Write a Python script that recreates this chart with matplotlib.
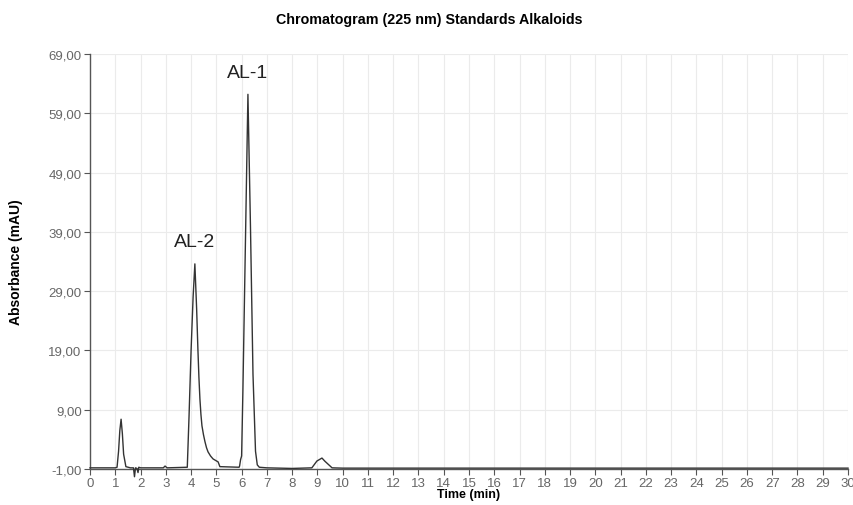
import matplotlib.pyplot as plt
from matplotlib.ticker import FuncFormatter

# chromatogram trace
time_min = [0.0, 1.0, 1.07, 1.13, 1.18, 1.23, 1.28, 1.33, 1.42, 1.6, 1.72, 1.76, 1.8,
            1.86, 1.9, 1.93, 2.0, 2.9, 2.97, 3.05, 3.85, 3.92, 4.0, 4.08, 4.15, 4.22,
            4.27, 4.31, 4.35, 4.39, 4.43, 4.49, 4.55, 4.61, 4.67, 4.77, 4.87, 4.97, 5.07,
            5.14, 5.9, 5.92, 5.96, 6.0, 6.05, 6.15, 6.25, 6.35, 6.45, 6.55, 6.62, 6.7,
            7.0, 8.0, 8.78, 8.98, 9.18, 9.3, 9.58, 10.0, 30.0]
absorbance = [-0.8, -0.8, -0.7, 2.0, 5.5, 7.4, 5.0, 1.5, -0.6, -0.8, -0.8, -2.3, -0.8,
              -0.9, -1.6, -0.7, -0.8, -0.8, -0.5, -0.8, -0.7, 8.0, 19.0, 28.0, 33.6, 26.0,
              19.2, 14.5, 10.8, 8.2, 6.3, 4.8, 3.6, 2.6, 1.9, 1.2, 0.7, 0.45, 0.2,
              -0.6, -0.7, -0.5, 0.6, 1.2, 12.0, 37.0, 62.2, 40.0, 15.0, 2.0, -0.3, -0.7,
              -0.8, -0.9, -0.8, 0.35, 0.85, 0.3, -0.8, -0.85, -0.85]

peak_names = ['AL-2', 'AL-1']
peak_times = [4.15, 6.25]
peak_heights = [33.6, 62.2]

yticks = [-1, 9, 19, 29, 39, 49, 59, 69]
xticks = list(range(0, 31))

plt.rcParams['font.family'] = ['Liberation Sans', 'DejaVu Sans']

fig = plt.figure(figsize=(8.54, 5.06), dpi=100)
ax = fig.add_axes([0.1054, 0.0711, 0.8876, 0.8202])

ax.plot(time_min, absorbance, color='#333333', linewidth=1.0, clip_on=False, zorder=3)

for name, t, h in zip(peak_names, peak_times, peak_heights):
    ax.text(t, h + 2.3, name, ha='center', va='bottom', fontsize=14, color='#222222')

ax.set_xlim(0, 30)
ax.set_ylim(-1, 69)
ax.set_xticks(xticks)
ax.set_yticks(yticks)
ax.yaxis.set_major_formatter(FuncFormatter(lambda v, p: f'{v:.2f}'.replace('.', ',')))

ax.grid(True, color='#ebebeb', linewidth=0.8)
ax.set_axisbelow(True)
for s in ['top', 'right']:
    ax.spines[s].set_visible(False)
for s in ['left', 'bottom']:
    ax.spines[s].set_color('#555555')
    ax.spines[s].set_linewidth(1.0)
ax.tick_params(axis='both', direction='out', length=4, width=0.8, color='#555555',
               labelsize=9.5, labelcolor='#666666', pad=2)

ax.set_xlabel('Time (min)', fontsize=9, fontweight='bold', labelpad=-1)
ax.set_ylabel('Absorbance (mAU)', fontsize=10, fontweight='bold', labelpad=18)
fig.text(0.503, 0.96, 'Chromatogram (225 nm) Standards Alkaloids', ha='center', va='center',
         fontsize=10.3, fontweight='bold')

plt.savefig('out.png', dpi=100)
